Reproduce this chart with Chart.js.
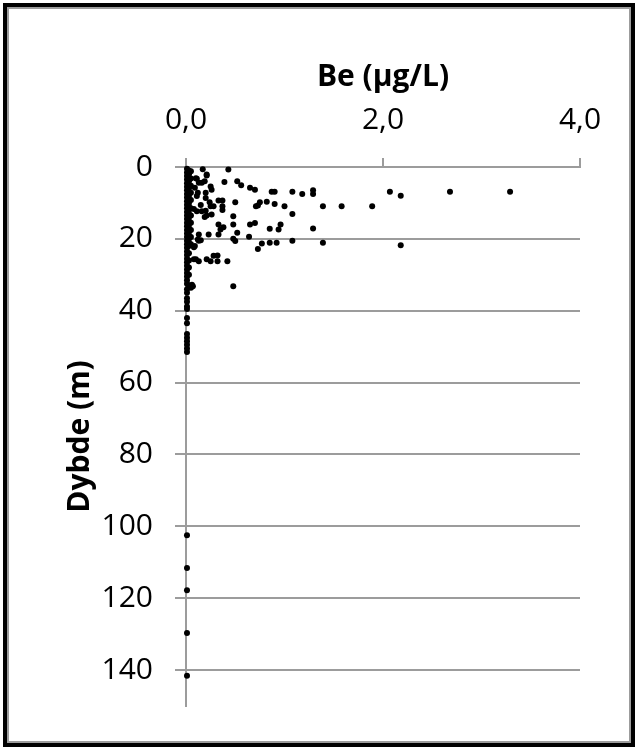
<!DOCTYPE html>
<html>
<head>
<meta charset="utf-8">
<script src="https://cdn.jsdelivr.net/npm/chart.js@4.4.1/dist/chart.umd.min.js"></script>
<style>
  html, body { margin: 0; padding: 0; background: #fff; }
  #frame {
    position: absolute; left: 3px; top: 3px; width: 632px; height: 744px;
    box-sizing: border-box; border: 4px solid #000;
  }
  #frame-inner {
    position: absolute; left: 0; top: 0; right: 0; bottom: 0;
    border: 2px solid #9c9c9c;
  }
  #chart { position: absolute; left: 0; top: 0; }
</style>
</head>
<body>
<div id="frame"><div id="frame-inner"></div></div>
<canvas id="chart" width="638" height="748"></canvas>
<script>
// Akser
const xTickValues = [0, 2, 4];
const yTickValues = [0, 20, 40, 60, 80, 100, 120, 140];

// Be-konsentrasjon (µg/L) og dybde (m), parvis
const beValues = [
  // kolonne ved 0
  0.01, 0.01, 0.01, 0.01, 0.01, 0.01, 0.01, 0.01, 0.01, 0.01, 0.01, 0.01,
  0.01, 0.01, 0.01, 0.01, 0.01, 0.01, 0.01, 0.01, 0.01, 0.01, 0.01, 0.01,
  0.01, 0.01, 0.01, 0.01, 0.01, 0.01, 0.01, 0.01, 0.01, 0.01, 0.01, 0.01,
  0.01, 0.01, 0.01, 0.01, 0.01, 0.01, 0.01, 0.01, 0.01, 0.01, 0.01,
  0.03, 0.03, 0.03, 0.03, 0.03, 0.03, 0.03, 0.03, 0.03, 0.03, 0.03, 0.03,
  0.03, 0.03, 0.03, 0.03, 0.03, 0.03, 0.03, 0.03, 0.03, 0.03, 0.03, 0.03,
  0.03, 0.03, 0.03,
  0.05, 0.05, 0.05, 0.05, 0.05, 0.05, 0.05, 0.05, 0.05, 0.05, 0.05,
  0.07, 0.06,
  0.01, 0.01, 0.01, 0.01, 0.01,
  // nær aksen
  0.11, 0.13, 0.19, 0.21, 0.09, 0.11, 0.08, 0.11, 0.10, 0.16, 0.12, 0.20,
  0.24, 0.15, 0.20, 0.12, 0.15, 0.09, 0.10, 0.21, 0.28, 0.08, 0.08,
  // spredte
  0.17, 0.43, 0.21, 0.39, 0.52, 0.56, 0.25, 0.26, 0.65, 0.70, 0.87, 0.90,
  1.08, 1.18, 1.29, 1.29, 2.07, 2.18, 2.68, 3.29, 0.20, 0.33, 0.37, 0.50,
  0.75, 0.82, 0.71, 0.73, 0.90, 1.00, 1.39, 1.58, 1.89, 0.25, 0.28, 0.37,
  0.37, 0.16, 0.21, 0.26, 0.19, 0.48, 1.08, 0.33, 0.38, 0.35, 0.48, 0.65,
  0.70, 0.96, 0.85, 0.94, 1.29, 0.52, 0.33, 0.23, 0.13, 0.64, 0.48, 0.50,
  0.13, 0.77, 0.85, 0.92, 1.08, 1.39, 2.18, 0.73, 0.13, 0.25, 0.32, 0.32,
  0.42, 0.48, 0.05
];
const dybdeValues = [
  0.5, 1.5, 2.5, 3.5, 4.5, 5.5, 6.5, 7.5, 8.5, 9.5, 10.5, 11.5,
  12.5, 13.5, 14.5, 15.5, 16.5, 17.5, 18.5, 19.5, 20.5, 21.5, 22.5, 23.5,
  24.5, 25.5, 26.5, 27.5, 28.5, 29.5, 30.5, 31.5, 32.5, 34, 35, 36.5,
  37.5, 38.8, 39.5, 42, 43.5, 46.5, 47.5, 48.5, 49.5, 50.5, 51.5,
  1, 2, 3, 4, 5, 6, 7, 8, 9, 10, 11, 12,
  13, 14, 15, 16, 17, 18, 19, 20, 21, 22, 24, 26,
  28, 30, 33,
  1.2, 3.2, 5.2, 7.2, 9.2, 11.5, 13.5, 15.5, 17.5, 19.5, 21.5,
  33.2, 32.8,
  102.5, 111.6, 117.8, 129.7, 141.6,
  3.3, 4.4, 4.0, 2.1, 5.8, 8.1, 11.7, 12.3, 3.1, 4.4, 7.2, 7.2,
  9.8, 10.6, 12.2, 20.2, 20.4, 22.0, 25.7, 25.7, 24.7, 22.3, 25.7,
  0.6, 0.7, 2.4, 4.2, 4.0, 5.1, 5.4, 6.3, 5.8, 6.3, 6.9, 6.9,
  6.9, 7.5, 6.5, 7.5, 6.9, 8.0, 6.9, 6.9, 8.6, 9.3, 9.3, 9.8,
  9.8, 9.7, 10.9, 10.7, 10.3, 10.9, 10.9, 10.9, 10.9, 10.9, 10.9, 10.9,
  12.0, 12.3, 13.5, 13.2, 13.9, 13.7, 13.1, 16.0, 16.8, 17.4, 16.0, 16.0,
  15.6, 16.0, 17.2, 17.4, 17.1, 18.3, 18.8, 18.8, 18.8, 19.4, 20.0, 20.6,
  20.5, 21.3, 21.1, 21.1, 20.5, 21.1, 21.8, 22.8, 26.2, 26.2, 24.6, 26.2,
  26.2, 33.2, 33.6
];

const points = beValues.map((v, i) => ({ x: v, y: dybdeValues[i] }));

const fontFamily = "'Open Sans', 'Liberation Sans', sans-serif";
const gridColor = "#9c9c9c";

new Chart(document.getElementById("chart"), {
  type: "scatter",
  data: {
    datasets: [{
      data: points,
      pointRadius: 3,
      pointHoverRadius: 3,
      pointBackgroundColor: "#000",
      pointBorderWidth: 0,
      clip: false,
    }],
  },
  options: {
    responsive: false,
    animation: false,
    layout: { padding: { left: 0, top: 0, right: 58, bottom: 42 } },
    plugins: { legend: { display: false }, tooltip: { enabled: false } },
    scales: {
      x: {
        position: "top",
        min: 0,
        max: 4,
        afterBuildTicks: (scale) => { scale.ticks = xTickValues.map((v) => ({ value: v })); },
        afterFit: (scale) => { scale.height = 167; },
        grid: { drawOnChartArea: false, drawTicks: true, tickLength: 9, color: gridColor, lineWidth: 2 },
        border: { display: true, color: gridColor, width: 2 },
        ticks: {
          color: "#000",
          padding: 20,
          maxRotation: 0,
          font: { family: fontFamily, size: 30 },
          callback: (v) => v.toFixed(1).replace(".", ","),
        },
        title: {
          display: true,
          text: "Be (µg/L)",
          color: "#000",
          font: { family: fontFamily, size: 30, weight: "bold" },
          padding: { top: 59, bottom: 0 },
        },
      },
      y: {
        reverse: true,
        min: 0,
        max: 150,
        afterBuildTicks: (scale) => { scale.ticks = yTickValues.map((v) => ({ value: v })); },
        afterFit: (scale) => { scale.width = 186; },
        grid: { drawTicks: true, tickLength: 11, color: gridColor, lineWidth: 2 },
        border: { display: true, color: gridColor, width: 2 },
        ticks: {
          color: "#000",
          padding: 22,
          font: { family: fontFamily, size: 30 },
        },
        title: {
          display: true,
          text: "Dybde (m)",
          color: "#000",
          font: { family: fontFamily, size: 30, weight: "bold" },
          padding: { top: 62, bottom: 0 },
        },
      },
    },
  },
});
</script>
</body>
</html>
